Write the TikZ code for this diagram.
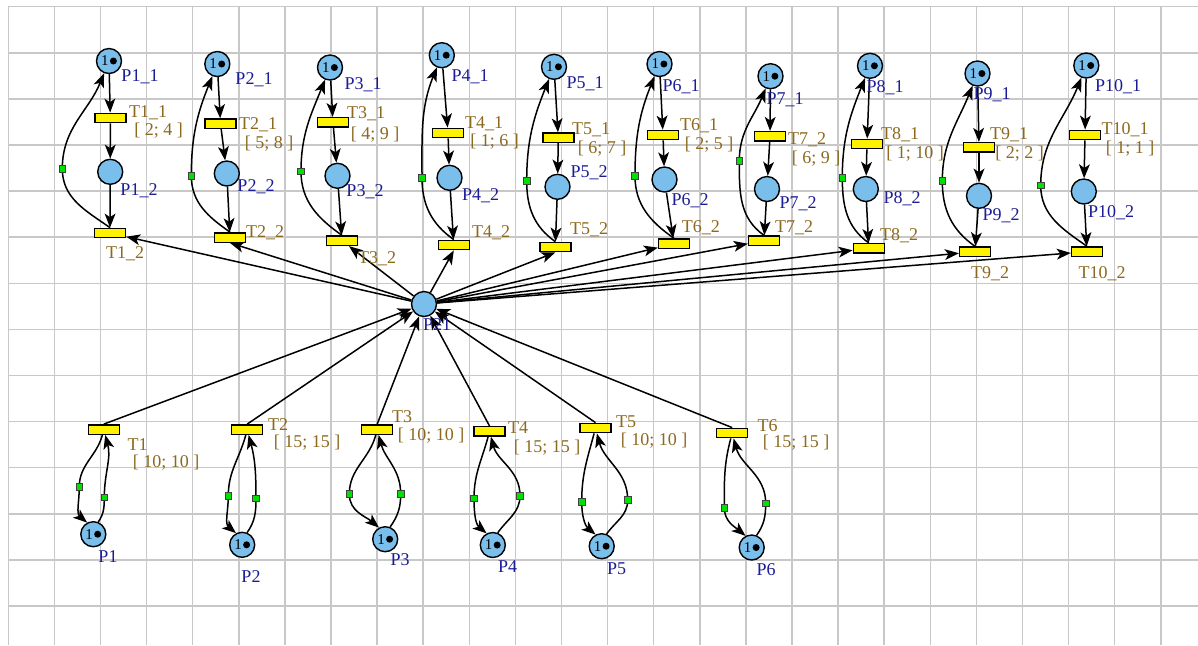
\documentclass[tikz,border=0pt]{standalone}
\usepackage{fontspec}
\setmainfont{Liberation Serif}
\usetikzlibrary{arrows.meta}
\definecolor{placeblue}{RGB}{122,190,236}
\definecolor{labblue}{RGB}{28,28,150}
\definecolor{labbrown}{RGB}{140,105,30}
\definecolor{gridgray}{RGB}{200,200,200}
\definecolor{sqgreen}{RGB}{0,225,0}
\newcommand\placetoken[1]{%
  \node[font=\fontsize{7.5}{7.5}\selectfont,inner sep=0pt] at ([xshift=-2.1pt]#1.center) {1};
  \fill ([xshift=2.2pt]#1.center) circle (1.75pt);}
\begin{document}
\begin{tikzpicture}[x=0.5pt,y=-0.5pt,
  place/.style={circle,draw=black,fill=placeblue,minimum size=12.5pt,inner sep=0pt,line width=0.7pt},
  trans/.style={rectangle,draw=black,fill=yellow,minimum width=15.5pt,minimum height=4.7pt,inner sep=0pt,line width=0.7pt},
  plab/.style={text=labblue,font=\fontsize{9}{10}\selectfont,inner sep=0pt},
  tlab/.style={text=labbrown,font=\fontsize{9}{10}\selectfont,inner sep=0pt},
  gsq/.style={rectangle,draw=black!75,fill=sqgreen,minimum size=3.2pt,inner sep=0pt,line width=0.4pt},
  arc/.style={line width=0.75pt,-{Stealth[length=7pt,width=5.4pt,inset=1.8pt]}},
  gridline/.style={draw=gridgray,line width=0.75pt}]
\useasboundingbox (0,0) rectangle (1198,645);
\fill[white] (0,0) rectangle (1198,645);
% grid
\foreach \i in {0,...,25} \draw[gridline] (8.3+46.1*\i,6.7) -- (8.3+46.1*\i,645);
\foreach \j in {0,...,13} \draw[gridline] (8.3,6.7+46.1*\j) -- (1198,6.7+46.1*\j);

% top columns
\foreach \i/\ax/\ay/\bx/\by/\cx/\cy/\ex/\ey/\gx/\gy in {
  1/109/61/110.3/118/110.2/171.8/110/233/62.3/168.7,
  2/217.3/64/220.5/123.7/226.8/173.5/230/237.5/191.3/175.7,
  3/330/67.5/333/122.3/337.5/175.8/342/240.7/301/171.3,
  4/441.8/55.2/448/133/449.5/177.8/453.8/245/422/177.7,
  5/554/66.8/558.3/137.7/557.5/186.8/555.3/247/526.7/181,
  6/659.5/64/663/135/664.5/179.5/674/243.7/635/176,
  7/770.5/76.2/770/136.3/767/189/764/240.7/739.3/161,
  8/870/65.8/867/144/865.8/189/868.8/248.3/842.3/177.7,
  9/977.5/73.5/979/147.3/979/195.8/975/251.7/942.3/181,
  10/1086.3/65.5/1085/135/1083.8/191.5/1087/251.7/1040.7/185.3}{
  \node[place] (pa\i) at (\ax,\ay) {};
  \node[trans] (ta\i) at (\bx,\by) {};
  \node[place] (pb\i) at (\cx,\cy) {};
  \node[trans] (tb\i) at (\ex,\ey) {};
  \coordinate (g\i) at (\gx,\gy);
  \draw[arc] (pa\i) -- (ta\i);
  \draw[arc] (ta\i) -- (pb\i);
  \draw[arc] (pb\i) -- (tb\i);
  \draw[arc] (tb\i.north) to[out=145,in=-90] (g\i) to[out=90,in=-112] (pa\i);
  \node[gsq] (sq\i) at (g\i) {};
  \placetoken{pa\i}
}

% central place
\node[place] (P21) at (424,304) {};

% bottom pairs
\foreach \i/\tx/\ty/\px/\py/\lx/\ly/\rx/\ry in {
  1/103.8/429.5/93.3/534.2/79.3/486.7/104.3/497.3,
  2/247.2/429.5/242.2/544.8/228.3/495.7/256/498.3,
  3/377.2/429.5/385.2/539.2/349.3/494/400.7/494,
  4/489.5/431.3/492.8/545/474/498.3/520/495.7,
  5/595.5/428/601.7/546.2/581.7/501.7/627.7/500,
  6/732.2/433/751.7/547.5/724.3/507.7/765.7/503.3}{
  \node[trans] (t\i) at (\tx,\ty) {};
  \node[place] (p\i) at (\px,\py) {};
  \coordinate (gl\i) at (\lx,\ly);
  \coordinate (gr\i) at (\rx,\ry);
  \draw[arc] ([xshift=-0.7pt]t\i.south) to[out=-105,in=90] (gl\i) to[out=-90,in=140] (p\i.118);
  \draw[arc] (p\i.68) to[out=55,in=-90] (gr\i) to[out=90,in=-75] ([xshift=0.7pt]t\i.south);
  \node[gsq] (sql\i) at (gl\i) {};
  \node[gsq] (sqr\i) at (gr\i) {};
  \placetoken{p\i}
  \draw[arc] (t\i.north) -- (P21);
}

% P21 to upper transitions
\draw[arc] (P21) -- (tb1);
\draw[arc] (P21) -- (tb2.south);
\draw[arc] (P21) -- (tb3);
\draw[arc] (P21) -- (tb4.south);
\draw[arc] (P21) -- (tb5.south);
\foreach \i in {6,...,10} \draw[arc] (P21) -- (tb\i);

% place labels
\node[plab] (lpa1) at (140,77) {P1\_1};
\node[plab] (lpb1) at (139,191) {P1\_2};
\node[plab] (lpa2) at (254,80) {P2\_1};
\node[plab] (lpb2) at (256,187) {P2\_2};
\node[plab] (lpa3) at (363,85) {P3\_1};
\node[plab] (lpb3) at (365,192) {P3\_2};
\node[plab] (lpa4) at (470,77) {P4\_1};
\node[plab] (lpb4) at (480.5,195.5) {P4\_2};
\node[plab] (lpa5) at (585,83.5) {P5\_1};
\node[plab] (lpb5) at (589,173) {P5\_2};
\node[plab] (lpa6) at (681,87) {P6\_1};
\node[plab] (lpb6) at (690,201) {P6\_2};
\node[plab] (lpa7) at (785,100) {P7\_1};
\node[plab] (lpb7) at (798,204) {P7\_2};
\node[plab] (lpa8) at (885,88) {P8\_1};
\node[plab] (lpb8) at (902,198.5) {P8\_2};
\node[plab] (lpa9) at (992,95) {P9\_1};
\node[plab] (lpb9) at (1001,216) {P9\_2};
\node[plab] (lpa10) at (1118,86.5) {P10\_1};
\node[plab] (lpb10) at (1111,212.5) {P10\_2};
\node[plab] (lP21) at (437,325) {P21};
\node[plab] (lp1) at (108,556.5) {P1};
\node[plab] (lp2) at (251,577) {P2};
\node[plab] (lp3) at (400,560) {P3};
\node[plab] (lp4) at (507.5,567) {P4};
\node[plab] (lp5) at (616.5,568.5) {P5};
\node[plab] (lp6) at (766,570) {P6};

% transition labels
\node[tlab] (lta1) at (148,113) {T1\_1};
\node[tlab] (lia1) at (158.5,131) {[ 2; 4 ]};
\node[tlab] (ltb1) at (125,254) {T1\_2};
\node[tlab] (lta2) at (258,125) {T2\_1};
\node[tlab] (lia2) at (269,144) {[ 5; 8 ]};
\node[tlab] (ltb2) at (265,233) {T2\_2};
\node[tlab] (lta3) at (366,114) {T3\_1};
\node[tlab] (lia3) at (375,134.5) {[ 4; 9 ]};
\node[tlab] (ltb3) at (377,259) {T3\_2};
\node[tlab] (lta4) at (484,124) {T4\_1};
\node[tlab] (lia4) at (494.5,141.5) {[ 1; 6 ]};
\node[tlab] (ltb4) at (491,233) {T4\_2};
\node[tlab] (lta5) at (591,130) {T5\_1};
\node[tlab] (lia5) at (602,148.5) {[ 6; 7 ]};
\node[tlab] (ltb5) at (589,230) {T5\_2};
\node[tlab] (lta6) at (699,126) {T6\_1};
\node[tlab] (lia6) at (709,145) {[ 2; 5 ]};
\node[tlab] (ltb6) at (700.8,227.5) {T6\_2};
\node[tlab] (lta7) at (807,139.5) {T7\_2};
\node[tlab] (lia7) at (816,159) {[ 6; 9 ]};
\node[tlab] (ltb7) at (794,227.5) {T7\_2};
\node[tlab] (lta8) at (900,135) {T8\_1};
\node[tlab] (lia8) at (915,154) {[ 1; 10 ]};
\node[tlab] (ltb8) at (899,236) {T8\_2};
\node[tlab] (lta9) at (1009,135) {T9\_1};
\node[tlab] (lia9) at (1019.5,153.5) {[ 2; 2 ]};
\node[tlab] (ltb9) at (990,274) {T9\_2};
\node[tlab] (lta10) at (1125,130) {T10\_1};
\node[tlab] (lia10) at (1130,149) {[ 1; 1 ]};
\node[tlab] (ltb10) at (1102,273.5) {T10\_2};
\node[tlab] (lt1) at (137.5,445) {T1};
\node[tlab] (li1) at (166,463) {[ 10; 10 ]};
\node[tlab] (lt2) at (278,425) {T2};
\node[tlab] (li2) at (307,442.5) {[ 15; 15 ]};
\node[tlab] (lt3) at (402,417) {T3};
\node[tlab] (li3) at (431,436) {[ 10; 10 ]};
\node[tlab] (lt4) at (518,428) {T4};
\node[tlab] (li4) at (547,447.5) {[ 15; 15 ]};
\node[tlab] (lt5) at (626,422) {T5};
\node[tlab] (li5) at (654,441) {[ 10; 10 ]};
\node[tlab] (lt6) at (767.5,425.5) {T6};
\node[tlab] (li6) at (796,442.5) {[ 15; 15 ]};
\end{tikzpicture}
\end{document}
